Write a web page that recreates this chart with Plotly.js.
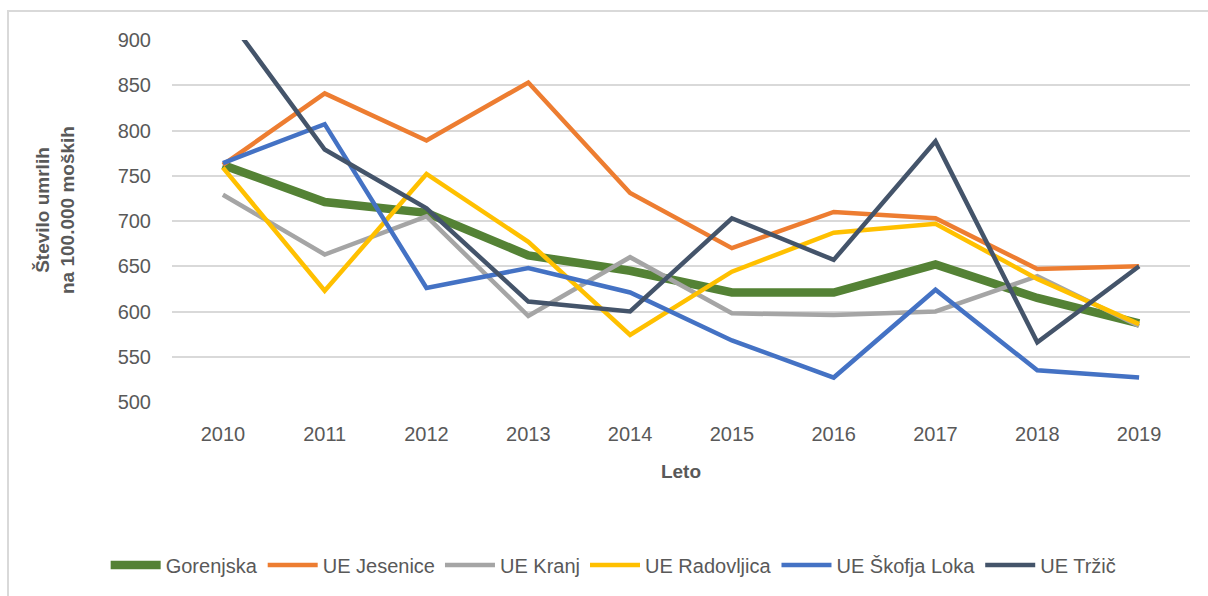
<!DOCTYPE html>
<html>
<head>
<meta charset="utf-8">
<script src="https://cdn.plot.ly/plotly-3.0.1.min.js"></script>
<style>
  html, body { margin: 0; padding: 0; background: #ffffff; }
  #chart { width: 1208px; height: 596px; position: relative; }
  #frame { position: absolute; left: 7px; top: 10px; width: 1400px; height: 800px;
           border: 2px solid #d9d9d9; box-sizing: border-box; pointer-events: none; }
  #wrap { position: relative; width: 1208px; height: 596px; overflow: hidden; }
</style>
</head>
<body>
<div id="wrap">
  <div id="chart"></div>
  <div id="frame"></div>
</div>
<script>
const years = ['2010','2011','2012','2013','2014','2015','2016','2017','2018','2019'];
const seriesNames = ['Gorenjska','UE Jesenice','UE Kranj','UE Radovljica','UE Škofja Loka','UE Tržič'];

const gorenjska   = [762, 721, 709, 662, 645, 621, 621, 652, 615, 587];
const jesenice    = [762, 841, 789, 853, 731, 670, 710, 703, 647, 650];
const kranj       = [729, 663, 705, 595, 660, 598, 596, 600, 639, 584];
const radovljica  = [759, 623, 752, 677, 574, 644, 687, 697, 636, 586];
const skofjaLoka  = [764, 807, 626, 648, 621, 568, 527, 624, 535, 527];
const trzic       = [932, 779, 714, 611, 600, 703, 657, 788, 566, 650];

const yTickVals = [500, 550, 600, 650, 700, 750, 800, 850, 900];

const colors = ['#548235', '#ED7D31', '#A5A5A5', '#FFC000', '#4472C4', '#44546A'];
const widths = [8.5, 4.5, 4.5, 4.5, 4.5, 4.5];
const values = [gorenjska, jesenice, kranj, radovljica, skofjaLoka, trzic];

const traces = values.map((v, i) => ({
  type: 'scatter',
  mode: 'lines',
  x: years,
  y: v,
  name: seriesNames[i],
  line: { color: colors[i], width: widths[i] },
  hoverinfo: 'x+y+name'
}));

const fontFam = '"Liberation Sans", Arial, sans-serif';

const layout = {
  width: 1208,
  height: 596,
  margin: { l: 172, r: 18, t: 40, b: 194 },
  paper_bgcolor: 'rgba(0,0,0,0)',
  plot_bgcolor: '#ffffff',
  font: { family: fontFam, size: 20, color: '#595959' },
  showlegend: true,
  legend: {
    orientation: 'h',
    x: 0.508, xanchor: 'center', xref: 'container',
    y: 1 - 565/596, yanchor: 'middle', yref: 'container',
    font: { family: fontFam, size: 20, color: '#595959' },
    traceorder: 'normal',
    itemwidth: 50
  },
  xaxis: {
    type: 'category',
    range: [-0.5, 9.5],
    showgrid: false,
    zeroline: false,
    showline: false,
    ticks: '',
    tickfont: { family: fontFam, size: 20, color: '#595959' },
    ticklabelstandoff: 18,
    title: { text: '<b>Leto</b>', font: { family: fontFam, size: 19, color: '#595959' }, standoff: 20 }
  },
  yaxis: {
    range: [500, 900],
    tickvals: yTickVals,
    ticktext: yTickVals.map(String),
    showgrid: true,
    gridcolor: '#d9d9d9',
    gridwidth: 2,
    zeroline: false,
    showline: false,
    ticks: '',
    tickfont: { family: fontFam, size: 20, color: '#595959' },
    ticklabelstandoff: 20
  },
  annotations: [{
    xref: 'paper', yref: 'paper',
    x: (55 - 172) / 1018, y: (402 - 210) / 362,
    xanchor: 'center', yanchor: 'middle',
    text: '<b>Število umrlih<br>na 100.000 moških</b>',
    textangle: -90,
    showarrow: false,
    font: { family: fontFam, size: 19, color: '#595959' }
  }]
};

Plotly.newPlot('chart', traces, layout, { displayModeBar: false, staticPlot: true });
</script>
</body>
</html>
